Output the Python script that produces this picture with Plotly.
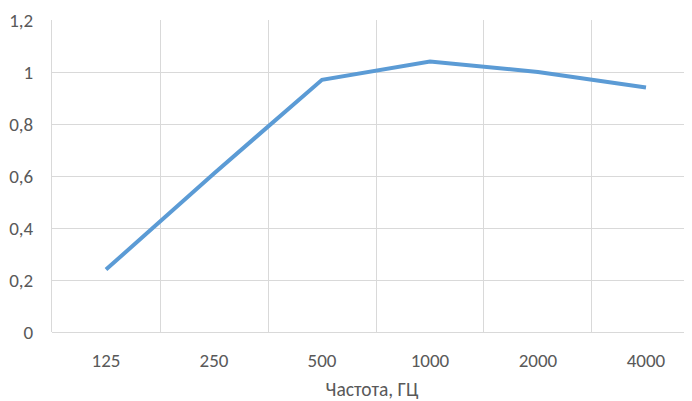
import plotly.graph_objects as go

categories = ["125", "250", "500", "1000", "2000", "4000"]
values = [0.24, 0.61, 0.97, 1.04, 1.00, 0.94]
y_ticks = [0, 0.2, 0.4, 0.6, 0.8, 1.0, 1.2]
x_title = "Частота, ГЦ"

font_family = "Carlito, Calibri, 'Open Sans', sans-serif"
text_color = "#595959"
grid_color = "#D9D9D9"

fig = go.Figure()
fig.add_trace(go.Scatter(
    x=categories, y=values, mode="lines",
    line=dict(color="#5B9BD5", width=4),
    hoverinfo="skip",
))

# page body has an 8px default margin, so the figure is shifted by 8px
fig.update_layout(
    width=684, height=393,
    margin=dict(l=44, r=0, t=12, b=69),
    paper_bgcolor="white", plot_bgcolor="white",
    separators=", ",
    showlegend=False,
    font=dict(family=font_family, color=text_color, size=19),
)
fig.update_xaxes(
    type="category",
    range=[-0.5, 5.426],
    tickson="boundaries",
    showgrid=True, gridcolor=grid_color, gridwidth=1,
    showline=False,
    ticks="", ticklabelstandoff=15,
    tickfont=dict(size=19, color=text_color),
    title=dict(text=x_title, font=dict(size=19.5, color=text_color), standoff=12),
    zeroline=False,
    automargin=False,
)
fig.update_yaxes(
    range=[0, 1.2],
    tickvals=y_ticks,
    showgrid=True, gridcolor=grid_color, gridwidth=1,
    showline=True, linecolor=grid_color, linewidth=1,
    zeroline=True, zerolinecolor=grid_color, zerolinewidth=1,
    ticks="", ticklabelstandoff=14,
    tickfont=dict(size=19, color=text_color),
    automargin=False,
)

fig.write_html("out.html")
